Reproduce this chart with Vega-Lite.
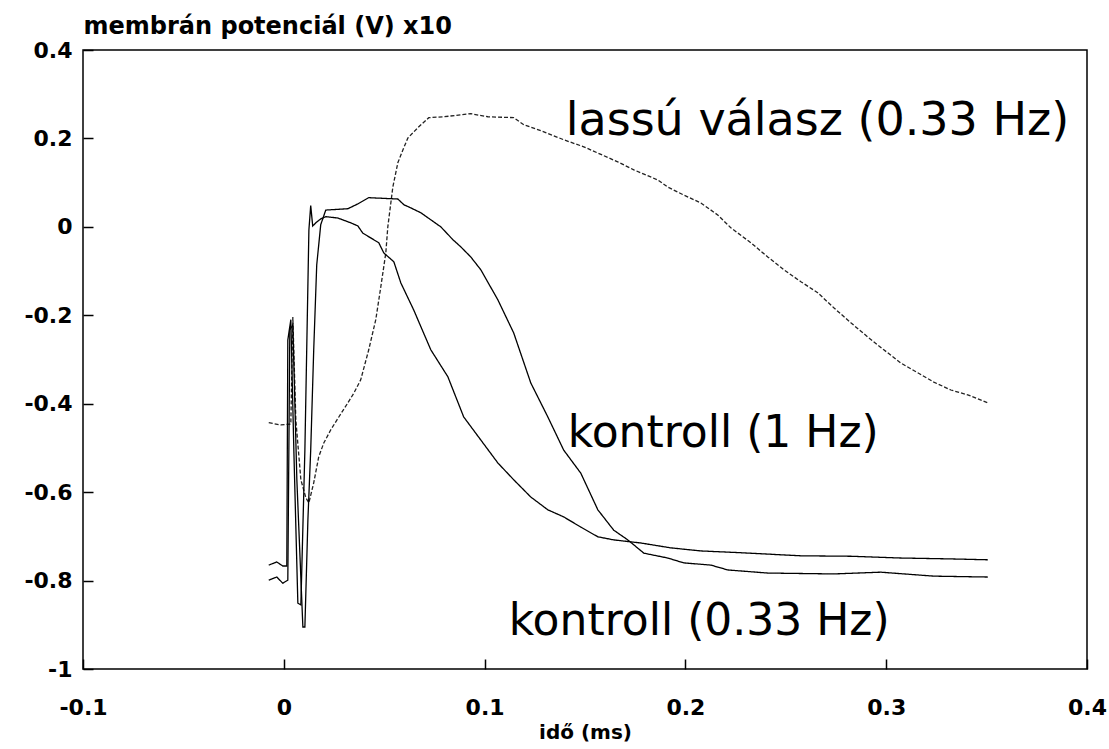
{
  "$schema": "https://vega.github.io/schema/vega-lite/v6.json",
  "width": 1004,
  "height": 619,
  "autosize": {"type": "none"},
  "padding": {"left": 83, "top": 50, "right": 22, "bottom": 80},
  "background": "white",
  "config": {
    "view": {"stroke": "black", "strokeWidth": 1.5},
    "axis": {"grid": false, "domain": false, "labelColor": "black", "tickColor": "black", "titleColor": "black", "labelFont": "DejaVu Sans", "titleFont": "DejaVu Sans"}
  },
  "datasets": {
    "curves": [
      {"s": "lassú válasz (0.33 Hz)", "t": -0.0075, "v": -0.443},
      {"s": "lassú válasz (0.33 Hz)", "t": -0.0015, "v": -0.448},
      {"s": "lassú válasz (0.33 Hz)", "t": 0.0035, "v": -0.446},
      {"s": "lassú válasz (0.33 Hz)", "t": 0.0045, "v": -0.204},
      {"s": "lassú válasz (0.33 Hz)", "t": 0.006, "v": -0.437},
      {"s": "lassú válasz (0.33 Hz)", "t": 0.0085, "v": -0.572},
      {"s": "lassú válasz (0.33 Hz)", "t": 0.011, "v": -0.613},
      {"s": "lassú válasz (0.33 Hz)", "t": 0.0125, "v": -0.624},
      {"s": "lassú válasz (0.33 Hz)", "t": 0.0149, "v": -0.579},
      {"s": "lassú válasz (0.33 Hz)", "t": 0.0174, "v": -0.52},
      {"s": "lassú válasz (0.33 Hz)", "t": 0.0199, "v": -0.489},
      {"s": "lassú válasz (0.33 Hz)", "t": 0.0234, "v": -0.459},
      {"s": "lassú válasz (0.33 Hz)", "t": 0.0274, "v": -0.43},
      {"s": "lassú válasz (0.33 Hz)", "t": 0.0319, "v": -0.398},
      {"s": "lassú válasz (0.33 Hz)", "t": 0.0349, "v": -0.376},
      {"s": "lassú válasz (0.33 Hz)", "t": 0.0383, "v": -0.346},
      {"s": "lassú válasz (0.33 Hz)", "t": 0.0423, "v": -0.278},
      {"s": "lassú válasz (0.33 Hz)", "t": 0.0458, "v": -0.21},
      {"s": "lassú válasz (0.33 Hz)", "t": 0.0483, "v": -0.136},
      {"s": "lassú válasz (0.33 Hz)", "t": 0.0508, "v": -0.059},
      {"s": "lassú válasz (0.33 Hz)", "t": 0.0518, "v": 0.0},
      {"s": "lassú válasz (0.33 Hz)", "t": 0.0543, "v": 0.09},
      {"s": "lassú válasz (0.33 Hz)", "t": 0.0568, "v": 0.145},
      {"s": "lassú válasz (0.33 Hz)", "t": 0.0593, "v": 0.174},
      {"s": "lassú válasz (0.33 Hz)", "t": 0.0618, "v": 0.201},
      {"s": "lassú válasz (0.33 Hz)", "t": 0.0667, "v": 0.224},
      {"s": "lassú válasz (0.33 Hz)", "t": 0.0722, "v": 0.247},
      {"s": "lassú válasz (0.33 Hz)", "t": 0.0797, "v": 0.249},
      {"s": "lassú válasz (0.33 Hz)", "t": 0.0931, "v": 0.256},
      {"s": "lassú válasz (0.33 Hz)", "t": 0.1016, "v": 0.249},
      {"s": "lassú válasz (0.33 Hz)", "t": 0.1145, "v": 0.247},
      {"s": "lassú válasz (0.33 Hz)", "t": 0.1195, "v": 0.231},
      {"s": "lassú válasz (0.33 Hz)", "t": 0.1295, "v": 0.215},
      {"s": "lassú válasz (0.33 Hz)", "t": 0.1394, "v": 0.197},
      {"s": "lassú válasz (0.33 Hz)", "t": 0.1494, "v": 0.181},
      {"s": "lassú válasz (0.33 Hz)", "t": 0.1663, "v": 0.147},
      {"s": "lassú válasz (0.33 Hz)", "t": 0.1743, "v": 0.129},
      {"s": "lassú válasz (0.33 Hz)", "t": 0.1863, "v": 0.106},
      {"s": "lassú válasz (0.33 Hz)", "t": 0.1912, "v": 0.09},
      {"s": "lassú válasz (0.33 Hz)", "t": 0.1992, "v": 0.072},
      {"s": "lassú válasz (0.33 Hz)", "t": 0.2077, "v": 0.054},
      {"s": "lassú válasz (0.33 Hz)", "t": 0.2161, "v": 0.027},
      {"s": "lassú válasz (0.33 Hz)", "t": 0.2226, "v": -0.002},
      {"s": "lassú válasz (0.33 Hz)", "t": 0.2326, "v": -0.036},
      {"s": "lassú válasz (0.33 Hz)", "t": 0.241, "v": -0.068},
      {"s": "lassú válasz (0.33 Hz)", "t": 0.249, "v": -0.097},
      {"s": "lassú válasz (0.33 Hz)", "t": 0.2575, "v": -0.124},
      {"s": "lassú válasz (0.33 Hz)", "t": 0.2659, "v": -0.149},
      {"s": "lassú válasz (0.33 Hz)", "t": 0.2739, "v": -0.183},
      {"s": "lassú válasz (0.33 Hz)", "t": 0.2824, "v": -0.217},
      {"s": "lassú válasz (0.33 Hz)", "t": 0.2908, "v": -0.249},
      {"s": "lassú válasz (0.33 Hz)", "t": 0.2988, "v": -0.278},
      {"s": "lassú válasz (0.33 Hz)", "t": 0.3073, "v": -0.308},
      {"s": "lassú válasz (0.33 Hz)", "t": 0.3157, "v": -0.33},
      {"s": "lassú válasz (0.33 Hz)", "t": 0.3237, "v": -0.351},
      {"s": "lassú válasz (0.33 Hz)", "t": 0.3322, "v": -0.369},
      {"s": "lassú válasz (0.33 Hz)", "t": 0.3406, "v": -0.38},
      {"s": "lassú válasz (0.33 Hz)", "t": 0.3506, "v": -0.398},

      {"s": "kontroll (0.33 Hz)", "t": -0.0075, "v": -0.765},
      {"s": "kontroll (0.33 Hz)", "t": -0.0035, "v": -0.758},
      {"s": "kontroll (0.33 Hz)", "t": -0.0005, "v": -0.767},
      {"s": "kontroll (0.33 Hz)", "t": 0.0015, "v": -0.767},
      {"s": "kontroll (0.33 Hz)", "t": 0.002, "v": -0.256},
      {"s": "kontroll (0.33 Hz)", "t": 0.0035, "v": -0.21},
      {"s": "kontroll (0.33 Hz)", "t": 0.005, "v": -0.505},
      {"s": "kontroll (0.33 Hz)", "t": 0.007, "v": -0.851},
      {"s": "kontroll (0.33 Hz)", "t": 0.0085, "v": -0.855},
      {"s": "kontroll (0.33 Hz)", "t": 0.0105, "v": -0.505},
      {"s": "kontroll (0.33 Hz)", "t": 0.0125, "v": -0.007},
      {"s": "kontroll (0.33 Hz)", "t": 0.0134, "v": 0.048},
      {"s": "kontroll (0.33 Hz)", "t": 0.0144, "v": 0.002},
      {"s": "kontroll (0.33 Hz)", "t": 0.0164, "v": 0.011},
      {"s": "kontroll (0.33 Hz)", "t": 0.0184, "v": 0.018},
      {"s": "kontroll (0.33 Hz)", "t": 0.0209, "v": 0.023},
      {"s": "kontroll (0.33 Hz)", "t": 0.0269, "v": 0.02},
      {"s": "kontroll (0.33 Hz)", "t": 0.0334, "v": 0.009},
      {"s": "kontroll (0.33 Hz)", "t": 0.0369, "v": 0.002},
      {"s": "kontroll (0.33 Hz)", "t": 0.0393, "v": -0.014},
      {"s": "kontroll (0.33 Hz)", "t": 0.0433, "v": -0.025},
      {"s": "kontroll (0.33 Hz)", "t": 0.0473, "v": -0.036},
      {"s": "kontroll (0.33 Hz)", "t": 0.0498, "v": -0.059},
      {"s": "kontroll (0.33 Hz)", "t": 0.0548, "v": -0.079},
      {"s": "kontroll (0.33 Hz)", "t": 0.0583, "v": -0.127},
      {"s": "kontroll (0.33 Hz)", "t": 0.0647, "v": -0.188},
      {"s": "kontroll (0.33 Hz)", "t": 0.0732, "v": -0.278},
      {"s": "kontroll (0.33 Hz)", "t": 0.0817, "v": -0.339},
      {"s": "kontroll (0.33 Hz)", "t": 0.0896, "v": -0.43},
      {"s": "kontroll (0.33 Hz)", "t": 0.0981, "v": -0.482},
      {"s": "kontroll (0.33 Hz)", "t": 0.1066, "v": -0.534},
      {"s": "kontroll (0.33 Hz)", "t": 0.1145, "v": -0.572},
      {"s": "kontroll (0.33 Hz)", "t": 0.123, "v": -0.611},
      {"s": "kontroll (0.33 Hz)", "t": 0.1315, "v": -0.64},
      {"s": "kontroll (0.33 Hz)", "t": 0.1394, "v": -0.656},
      {"s": "kontroll (0.33 Hz)", "t": 0.1479, "v": -0.679},
      {"s": "kontroll (0.33 Hz)", "t": 0.1564, "v": -0.701},
      {"s": "kontroll (0.33 Hz)", "t": 0.1643, "v": -0.708},
      {"s": "kontroll (0.33 Hz)", "t": 0.1778, "v": -0.715},
      {"s": "kontroll (0.33 Hz)", "t": 0.1927, "v": -0.726},
      {"s": "kontroll (0.33 Hz)", "t": 0.2077, "v": -0.733},
      {"s": "kontroll (0.33 Hz)", "t": 0.2276, "v": -0.737},
      {"s": "kontroll (0.33 Hz)", "t": 0.2575, "v": -0.744},
      {"s": "kontroll (0.33 Hz)", "t": 0.2824, "v": -0.745},
      {"s": "kontroll (0.33 Hz)", "t": 0.3073, "v": -0.749},
      {"s": "kontroll (0.33 Hz)", "t": 0.3322, "v": -0.751},
      {"s": "kontroll (0.33 Hz)", "t": 0.3506, "v": -0.753},

      {"s": "kontroll (1 Hz)", "t": -0.0075, "v": -0.799},
      {"s": "kontroll (1 Hz)", "t": -0.0035, "v": -0.792},
      {"s": "kontroll (1 Hz)", "t": -0.0005, "v": -0.806},
      {"s": "kontroll (1 Hz)", "t": 0.002, "v": -0.799},
      {"s": "kontroll (1 Hz)", "t": 0.003, "v": -0.233},
      {"s": "kontroll (1 Hz)", "t": 0.0045, "v": -0.222},
      {"s": "kontroll (1 Hz)", "t": 0.0065, "v": -0.572},
      {"s": "kontroll (1 Hz)", "t": 0.0095, "v": -0.905},
      {"s": "kontroll (1 Hz)", "t": 0.0105, "v": -0.905},
      {"s": "kontroll (1 Hz)", "t": 0.012, "v": -0.663},
      {"s": "kontroll (1 Hz)", "t": 0.0134, "v": -0.505},
      {"s": "kontroll (1 Hz)", "t": 0.0149, "v": -0.278},
      {"s": "kontroll (1 Hz)", "t": 0.0164, "v": -0.086},
      {"s": "kontroll (1 Hz)", "t": 0.0184, "v": 0.005},
      {"s": "kontroll (1 Hz)", "t": 0.0209, "v": 0.038},
      {"s": "kontroll (1 Hz)", "t": 0.0319, "v": 0.041},
      {"s": "kontroll (1 Hz)", "t": 0.0369, "v": 0.052},
      {"s": "kontroll (1 Hz)", "t": 0.0423, "v": 0.066},
      {"s": "kontroll (1 Hz)", "t": 0.0568, "v": 0.063},
      {"s": "kontroll (1 Hz)", "t": 0.0598, "v": 0.05},
      {"s": "kontroll (1 Hz)", "t": 0.0632, "v": 0.043},
      {"s": "kontroll (1 Hz)", "t": 0.0682, "v": 0.032},
      {"s": "kontroll (1 Hz)", "t": 0.0732, "v": 0.016},
      {"s": "kontroll (1 Hz)", "t": 0.0782, "v": 0.0},
      {"s": "kontroll (1 Hz)", "t": 0.0842, "v": -0.029},
      {"s": "kontroll (1 Hz)", "t": 0.0881, "v": -0.045},
      {"s": "kontroll (1 Hz)", "t": 0.0931, "v": -0.068},
      {"s": "kontroll (1 Hz)", "t": 0.0981, "v": -0.097},
      {"s": "kontroll (1 Hz)", "t": 0.1066, "v": -0.165},
      {"s": "kontroll (1 Hz)", "t": 0.1145, "v": -0.24},
      {"s": "kontroll (1 Hz)", "t": 0.123, "v": -0.353},
      {"s": "kontroll (1 Hz)", "t": 0.1315, "v": -0.43},
      {"s": "kontroll (1 Hz)", "t": 0.1394, "v": -0.505},
      {"s": "kontroll (1 Hz)", "t": 0.1479, "v": -0.557},
      {"s": "kontroll (1 Hz)", "t": 0.1564, "v": -0.64},
      {"s": "kontroll (1 Hz)", "t": 0.1643, "v": -0.686},
      {"s": "kontroll (1 Hz)", "t": 0.1713, "v": -0.708},
      {"s": "kontroll (1 Hz)", "t": 0.1793, "v": -0.738},
      {"s": "kontroll (1 Hz)", "t": 0.1912, "v": -0.749},
      {"s": "kontroll (1 Hz)", "t": 0.1992, "v": -0.76},
      {"s": "kontroll (1 Hz)", "t": 0.2127, "v": -0.765},
      {"s": "kontroll (1 Hz)", "t": 0.2211, "v": -0.776},
      {"s": "kontroll (1 Hz)", "t": 0.241, "v": -0.783},
      {"s": "kontroll (1 Hz)", "t": 0.2739, "v": -0.785},
      {"s": "kontroll (1 Hz)", "t": 0.2973, "v": -0.781},
      {"s": "kontroll (1 Hz)", "t": 0.3237, "v": -0.79},
      {"s": "kontroll (1 Hz)", "t": 0.3506, "v": -0.792}
    ],
    "labels": [
      {"label": "lassú válasz (0.33 Hz)", "t": 0.1404, "v": 0.208},
      {"label": "kontroll (1 Hz)", "t": 0.1414, "v": -0.498},
      {"label": "kontroll (0.33 Hz)", "t": 0.112, "v": -0.923}
    ]
  },
  "layer": [
    {
      "data": {"name": "curves"},
      "mark": {"type": "line", "strokeWidth": 1.3, "clip": true},
      "encoding": {
        "x": {
          "field": "t", "type": "quantitative",
          "scale": {"domain": [-0.1, 0.4], "nice": false, "zero": false},
          "axis": {
            "values": [-0.1, 0, 0.1, 0.2, 0.3, 0.4],
            "labelExpr": "replace(format(datum.value, '~g'), '\u2212', '-')",
            "labelFontSize": 22, "labelFontWeight": "bold", "labelPadding": 38,
            "tickSize": -10, "tickWidth": 1.5,
            "labelFlush": false,
            "title": "idő (ms)", "titleFontSize": 20, "titleFontWeight": "bold", "titlePadding": 4
          }
        },
        "y": {
          "field": "v", "type": "quantitative",
          "scale": {"domain": [-1, 0.4], "nice": false, "zero": false},
          "axis": {
            "values": [-1, -0.8, -0.6, -0.4, -0.2, 0, 0.2, 0.4],
            "labelExpr": "replace(format(datum.value, '~g'), '\u2212', '-')",
            "labelFontSize": 22, "labelFontWeight": "bold", "labelPadding": 21,
            "tickSize": -10, "tickWidth": 1.5,
            "labelFlush": false,
            "title": "membrán potenciál (V) x10", "titleFontSize": 24, "titleFontWeight": "bold",
            "titleAngle": 0, "titleX": 0, "titleY": -17, "titleAlign": "left", "titleBaseline": "alphabetic"
          }
        },
        "color": {"field": "s", "type": "nominal", "scale": {"range": ["black", "black", "#222222"], "domain": ["kontroll (0.33 Hz)", "kontroll (1 Hz)", "lassú válasz (0.33 Hz)"]}, "legend": null},
        "strokeDash": {"field": "s", "type": "nominal", "scale": {"domain": ["kontroll (0.33 Hz)", "kontroll (1 Hz)", "lassú válasz (0.33 Hz)"], "range": [[1, 0], [1, 0], [4, 2]]}, "legend": null}
      }
    },
    {
      "mark": {"type": "rule", "color": "black", "strokeWidth": 1.5},
      "encoding": {"y": {"datum": 0}}
    },
    {
      "data": {"name": "labels"},
      "transform": [{"filter": "datum.label !== 'lassú válasz (0.33 Hz)'"}],
      "mark": {"type": "text", "align": "left", "baseline": "alphabetic", "font": "DejaVu Sans", "fontSize": 44, "color": "black"},
      "encoding": {
        "x": {"field": "t", "type": "quantitative"},
        "y": {"field": "v", "type": "quantitative"},
        "text": {"field": "label"}
      }
    },
    {
      "data": {"name": "labels"},
      "transform": [{"filter": "datum.label === 'lassú válasz (0.33 Hz)'"}],
      "mark": {"type": "text", "align": "left", "baseline": "alphabetic", "font": "DejaVu Sans", "fontSize": 46, "color": "black"},
      "encoding": {
        "x": {"field": "t", "type": "quantitative"},
        "y": {"field": "v", "type": "quantitative"},
        "text": {"field": "label"}
      }
    }
  ]
}
